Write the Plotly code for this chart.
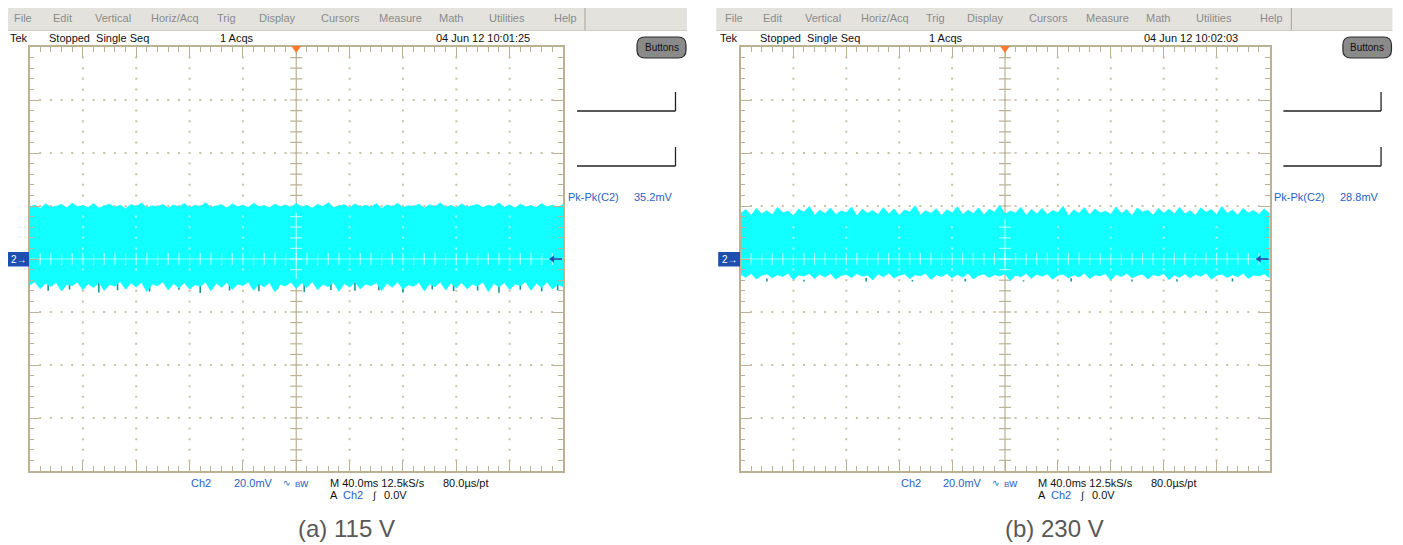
import plotly.graph_objects as go

# ---------------- data ----------------
time_ms = [4 * i for i in range(101)]          # 10 div x 40 ms/div

a_upper_mV = [19.6, 20.4, 19.1, 20.8, 19.5, 19.9, 20.6, 19.3, 21.0, 19.7, 20.2, 19.4, 20.9, 19.2, 20.0, 20.7, 19.5, 20.3, 19.0, 20.5,
              19.8, 21.1, 19.3, 20.1, 19.7, 20.6, 19.2, 20.4, 19.6, 20.9, 19.4, 20.2, 19.8, 21.2, 19.5, 20.0, 20.5, 19.2, 20.8, 19.7,
              20.3, 19.4, 21.0, 19.8, 20.1, 19.3, 20.7, 19.7, 20.4, 19.5, 20.9, 19.6, 20.2, 19.2, 20.6, 19.8, 21.2, 19.4, 20.0, 20.5,
              19.3, 20.8, 19.6, 20.3, 19.5, 20.9, 19.1, 20.4, 19.7, 21.0, 19.4, 20.1, 19.8, 20.7, 19.2, 20.5, 19.7, 21.1, 19.5, 20.2,
              19.3, 20.8, 19.6, 20.0, 20.6, 19.4, 20.3, 19.8, 21.1, 19.5, 20.4, 19.2, 20.7, 19.7, 20.1, 19.4, 20.9, 19.6, 20.3, 19.5, 20.5]
a_lower_mV = [-9.8, -8.6, -11.2, -9.1, -10.4, -8.8, -12.1, -9.5, -10.0, -8.7, -11.6, -9.3, -10.8, -8.9, -11.9, -9.6, -10.2, -8.5, -11.4, -9.0,
              -10.6, -8.8, -12.3, -9.4, -10.1, -8.6, -11.7, -9.2, -10.9, -8.9, -11.3, -9.7, -10.3, -8.7, -12.0, -9.1, -10.7, -8.8, -11.5, -9.4,
              -10.0, -8.6, -11.8, -9.3, -10.5, -8.9, -12.4, -9.6, -10.2, -8.7, -11.1, -9.0, -10.8, -8.5, -11.6, -9.5, -10.4, -8.8, -12.2, -9.2,
              -10.6, -8.7, -11.3, -9.4, -10.1, -8.9, -11.9, -9.1, -10.7, -8.6, -11.4, -9.7, -10.3, -8.8, -12.0, -9.3, -10.5, -8.6, -11.7, -9.0,
              -10.9, -8.8, -11.2, -9.5, -10.2, -8.7, -12.3, -9.2, -10.6, -8.9, -11.5, -9.4, -10.0, -8.6, -11.8, -9.1, -10.8, -8.7, -11.3, -9.6, -10.4]
a_dark_x_ms = [14, 30, 52, 66, 90, 112, 128, 150, 172, 186, 206, 226, 244, 262, 280, 302, 318, 336, 352, 368, 384, 396]
a_dark_mV = [-12.0, -11.5, -12.6, -11.8, -12.3, -11.6, -12.8, -11.9, -12.2, -11.4, -12.5, -11.7, -12.0, -11.8, -12.6, -11.5,
             -12.1, -11.9, -12.7, -11.6, -12.2, -11.8]

b_upper_mV = [17.2, 18.6, 16.4, 19.1, 17.0, 18.2, 16.6, 19.5, 17.4, 18.0, 16.3, 18.8, 17.6, 19.8, 16.5, 18.4, 17.1, 19.2, 16.8, 18.1,
              17.5, 19.6, 16.2, 18.7, 17.3, 18.3, 16.7, 19.4, 17.0, 18.9, 16.4, 18.5, 17.7, 20.1, 16.6, 18.2, 17.2, 19.0, 16.3, 18.6,
              17.4, 19.7, 16.8, 18.4, 17.1, 19.3, 16.5, 18.8, 17.6, 20.3, 16.9, 18.1, 17.3, 19.5, 16.4, 18.7, 17.0, 19.1, 16.7, 18.3,
              17.5, 19.9, 16.2, 18.5, 17.2, 19.4, 16.6, 18.9, 17.4, 18.0, 16.8, 19.6, 17.1, 18.6, 16.3, 19.2, 17.7, 18.4, 16.5, 19.0,
              17.3, 18.8, 16.9, 19.5, 17.0, 18.2, 16.4, 19.3, 17.6, 18.7, 16.7, 19.8, 17.2, 18.5, 16.5, 19.1, 17.4, 18.3, 16.8, 18.9, 17.1]
b_lower_mV = [-5.8, -6.9, -5.4, -7.5, -6.1, -5.6, -7.1, -5.9, -6.6, -5.3, -7.8, -6.0, -6.4, -5.5, -7.3, -5.7, -6.8, -5.4, -7.6, -6.2,
              -5.8, -7.0, -5.5, -6.5, -6.0, -7.9, -5.6, -6.7, -5.3, -7.2, -6.1, -5.7, -7.4, -5.9, -6.3, -5.4, -7.7, -6.0, -6.6, -5.5,
              -7.1, -5.8, -6.9, -5.3, -7.5, -6.2, -5.6, -7.0, -5.9, -6.4, -5.5, -8.1, -6.0, -6.7, -5.4, -7.3, -5.8, -6.5, -5.6, -7.6,
              -6.1, -5.7, -7.2, -5.9, -6.8, -5.3, -7.4, -6.0, -6.3, -5.5, -7.9, -5.8, -6.6, -5.4, -7.1, -6.2, -5.7, -7.5, -5.9, -6.4,
              -5.5, -7.8, -6.0, -6.9, -5.6, -7.2, -5.8, -6.5, -5.3, -7.6, -6.1, -5.7, -7.0, -5.9, -6.7, -5.4, -7.3, -6.0, -6.4, -5.6, -7.1]
b_dark_x_ms = [20, 48, 95, 130, 170, 214, 250, 296, 330, 372]
b_dark_mV = [-7.4, -7.8, -7.2, -7.9, -7.5, -8.0, -7.3, -7.7, -7.6, -7.4]

menu_items = ["File", "Edit", "Vertical", "Horiz/Acq", "Trig", "Display", "Cursors", "Measure", "Math", "Utilities", "Help"]
timestamps = ["04 Jun 12 10:01:25", "04 Jun 12 10:02:03"]
pkpk_values = ["35.2mV", "28.8mV"]
captions = ["(a) 115 V", "(b) 230 V"]

# ---------------- styling / layout ----------------
W, H = 1403, 545
OFF = 8                      # page body margin of the html page
FW, FH = W - OFF, H - OFF    # figure size so that page pixels match the reference
FONT = "Liberation Sans"
TAN = "#bab293"
DOT = "#c8c1a6"
CYAN = "#11ffff"
DARK = "#1d9696"
BLUE = "#2a62c6"
LIGHT = "rgba(255,255,255,0.6)"
Y_TOP, Y_BOT = 47.0, 471.0
PANEL_X = [(29.5, 563.0), (740.5, 1269.5)]
S = (PANEL_X[1][1] - PANEL_X[1][0]) / (PANEL_X[0][1] - PANEL_X[0][0])
menu_cx = [23, 62, 113, 175, 226, 277, 340, 400, 451, 507, 565]
inner = [(-7.5, 17.5), (-4.5, 15.0)]


def px(x):
    return (x - OFF) / FW


def py(y):
    return 1 - (y - OFF) / FH


def mx(xa, k):
    return xa if k == 0 else PANEL_X[1][0] + (xa - PANEL_X[0][0]) * S


fig = go.Figure()
shapes = []
anns = []


def ann(x, y, text, color="#111111", size=11, xanchor="left", family=FONT):
    anns.append(dict(x=px(x), y=py(y), xref="paper", yref="paper", text=text, showarrow=False,
                     xanchor=xanchor, yanchor="middle", font=dict(family=family, size=size, color=color)))


def rect(x0, y0, x1, y1, fill, line=None, lw=0):
    shapes.append(dict(type="rect", xref="paper", yref="paper", x0=px(x0), x1=px(x1), y0=py(y1), y1=py(y0),
                       fillcolor=fill, line=dict(color=line or fill, width=lw), layer="above"))


def seg(x0, y0, x1, y1, color, lw=1.2):
    shapes.append(dict(type="line", xref="paper", yref="paper", x0=px(x0), x1=px(x1), y0=py(y0), y1=py(y1),
                       line=dict(color=color, width=lw), layer="above"))


def path(pts, fill, line=None, lw=0):
    d = "M " + " L ".join(f"{px(a):.5f},{py(b):.5f}" for a, b in pts) + " Z"
    shapes.append(dict(type="path", xref="paper", yref="paper", path=d, fillcolor=fill,
                       line=dict(color=line or fill, width=lw), layer="above"))


def rounded(x0, y0, x1, y1, r):
    def p(a, b):
        return f"{px(a):.5f},{py(b):.5f}"
    d = (f"M {p(x0 + r, y0)} L {p(x1 - r, y0)} Q {p(x1, y0)} {p(x1, y0 + r)} L {p(x1, y1 - r)} "
         f"Q {p(x1, y1)} {p(x1 - r, y1)} L {p(x0 + r, y1)} Q {p(x0, y1)} {p(x0, y1 - r)} "
         f"L {p(x0, y0 + r)} Q {p(x0, y0)} {p(x0 + r, y0)} Z")
    shapes.append(dict(type="path", xref="paper", yref="paper", path=d, fillcolor="#8a8a8a",
                       line=dict(color="#2b2b2b", width=1.2), layer="above"))


series = [(a_upper_mV, a_lower_mV, a_dark_x_ms, a_dark_mV), (b_upper_mV, b_lower_mV, b_dark_x_ms, b_dark_mV)]

for k in range(2):
    xa = "x" if k == 0 else "x2"
    ya = "y" if k == 0 else "y2"
    up, lo, dx, dy = series[k]
    lo_in, hi_in = inner[k]

    # graticule dots
    gx, gy = [], []
    for yv in (-60, -40, -20, 20, 40, 60):
        for xv in range(8, 400, 8):
            gx.append(xv); gy.append(yv)
    for xv in range(40, 400, 40):
        if xv == 200:
            continue
        for yv in range(-76, 80, 4):
            if yv % 20 == 0:
                continue
            gx.append(xv); gy.append(yv)
    fig.add_trace(go.Scatter(x=gx, y=gy, xaxis=xa, yaxis=ya, mode="markers", hoverinfo="skip",
                             marker=dict(symbol="square", size=2, color=DOT, line=dict(width=0))))
    # centre vertical line with cross ticks
    cx, cy = [200, 200, None], [-80, 80, None]
    for yv in range(-76, 80, 4):
        cx += [195.5, 204.5, None]; cy += [yv, yv, None]
    fig.add_trace(go.Scatter(x=cx, y=cy, xaxis=xa, yaxis=ya, mode="lines", hoverinfo="skip",
                             line=dict(color=TAN, width=1.2)))
    # dark spikes
    sx, sy = [], []
    for a, b in zip(dx, dy):
        sx += [a, a, None]; sy += [-8.5, b, None]
    fig.add_trace(go.Scatter(x=sx, y=sy, xaxis=xa, yaxis=ya, mode="lines", hoverinfo="skip",
                             line=dict(color=DARK, width=1.6)))
    # noise band
    fig.add_trace(go.Scatter(x=time_ms + time_ms[::-1], y=up + lo[::-1], xaxis=xa, yaxis=ya, mode="lines",
                             fill="toself", fillcolor=CYAN, line=dict(color=CYAN, width=0.8), hoverinfo="skip"))
    # light graticule over the band
    ox, oy = [0, 400, None], [0, 0, None]
    for xv in range(8, 400, 8):
        ox += [xv, xv, None]; oy += [-2.3, 2.3, None]
    ox += [200, 200, None]; oy += [lo_in, hi_in, None]
    for yv in range(-76, 80, 4):
        if lo_in < yv < hi_in:
            ox += [195.5, 204.5, None]; oy += [yv, yv, None]
    fig.add_trace(go.Scatter(x=ox, y=oy, xaxis=xa, yaxis=ya, mode="lines", hoverinfo="skip",
                             line=dict(color=LIGHT, width=1.2)))
    lx, ly = [], []
    for xv in range(40, 400, 40):
        if xv == 200:
            continue
        for yv in range(-76, 80, 4):
            if lo_in < yv < hi_in and yv != 0:
                lx.append(xv); ly.append(yv)
    fig.add_trace(go.Scatter(x=lx, y=ly, xaxis=xa, yaxis=ya, mode="markers", hoverinfo="skip",
                             marker=dict(symbol="square", size=2, color=LIGHT, line=dict(width=0))))

    # ---- chrome ----
    rect(max(mx(5, k), OFF), 5, mx(687, k), 30.5, "#e4e2dd")
    seg(max(mx(5, k), OFF), 30.5, mx(687, k), 30.5, "#cfccc4", 1)
    seg(mx(585, k), 6, mx(585, k), 30, "#a6a39c", 1)
    for name, c in zip(menu_items, menu_cx):
        ann(mx(c, k), 17.5, name, color="#8b8b8b", size=11, xanchor="center")
    ann(max(mx(7, k), OFF), 38, "Tek")
    ann(mx(47, k), 38, "Stopped  Single Seq")
    ann(mx(218, k), 38, "1 Acqs")
    ann(mx(434, k), 38, timestamps[k])
    rounded(mx(637, k), 37, mx(686, k), 58, 8)
    ann(mx(661.5, k), 47.5, "Buttons", size=10, xanchor="center")
    for yb in (111, 166):
        seg(mx(577, k), yb, mx(675.5, k), yb, "#222222", 1.3)
        seg(mx(675.5, k), yb - 19, mx(675.5, k), yb, "#222222", 1.3)
    ann(mx(566, k), 197, "Pk-Pk(C2)", color=BLUE)
    ann(mx(632, k), 197, pkpk_values[k], color=BLUE)
    # trigger marker
    xc = mx(296.2, k)
    path([(xc - 5, 46), (xc + 5, 46), (xc, 53)], "#ff7a2e")
    # channel marker
    rect(max(mx(7, k), OFF), 252, mx(29, k), 266.5, "#1c4fae")
    ann(mx(18.5, k), 259.3, "2→", color="white", size=10, xanchor="center")
    # ground arrow
    xr = mx(549, k)
    seg(xr + 3, 259, xr + 13, 259, "#1c4fae", 1.6)
    path([(xr, 259), (xr + 5, 255.5), (xr + 5, 262.5)], "#1c4fae")
    # bottom readouts
    ann(mx(189, k), 482.5, "Ch2", color=BLUE)
    ann(mx(232, k), 482.5, "20.0mV", color=BLUE)
    ann(mx(281, k), 482.5, "∿", color=BLUE, size=9)
    ann(mx(293, k), 482.5, "<span style='font-size:8px'>B</span>w", color=BLUE)
    ann(mx(328, k), 482.5, "M 40.0ms 12.5kS/s")
    ann(mx(441, k), 482.5, "80.0µs/pt")
    ann(mx(328, k), 495, "A")
    ann(mx(341, k), 495, "Ch2", color=BLUE)
    ann(mx(370, k), 495, "∫", size=10)
    ann(mx(382, k), 495, "0.0V")
    ann(mx(346, k), 528, captions[k], color="#595959", size=24, xanchor="center")

axis_common = dict(showgrid=False, zeroline=False, showline=True, linecolor=TAN, linewidth=1.5, mirror="ticks",
                   ticks="inside", ticklen=10, tickwidth=1.3, tickcolor=TAN, showticklabels=False, fixedrange=True)
xcommon = dict(axis_common, range=[0, 400], tick0=0, dtick=40,
               minor=dict(ticks="inside", ticklen=5, tickwidth=1, tickcolor=TAN, dtick=8, tick0=0, showgrid=False))
ycommon = dict(axis_common, range=[-80, 80], tick0=0, dtick=20,
               minor=dict(ticks="inside", ticklen=5, tickwidth=1, tickcolor=TAN, dtick=4, tick0=0, showgrid=False))

fig.update_layout(
    width=FW, height=FH, margin=dict(l=0, r=0, t=0, b=0),
    paper_bgcolor="white", plot_bgcolor="white", showlegend=False,
    xaxis=dict(xcommon, domain=[px(PANEL_X[0][0]), px(PANEL_X[0][1])], anchor="y"),
    yaxis=dict(ycommon, domain=[py(Y_BOT), py(Y_TOP)], anchor="x"),
    xaxis2=dict(xcommon, domain=[px(PANEL_X[1][0]), px(PANEL_X[1][1])], anchor="y2"),
    yaxis2=dict(ycommon, domain=[py(Y_BOT), py(Y_TOP)], anchor="x2"),
    shapes=shapes, annotations=anns,
)

fig.write_html("out.html")
